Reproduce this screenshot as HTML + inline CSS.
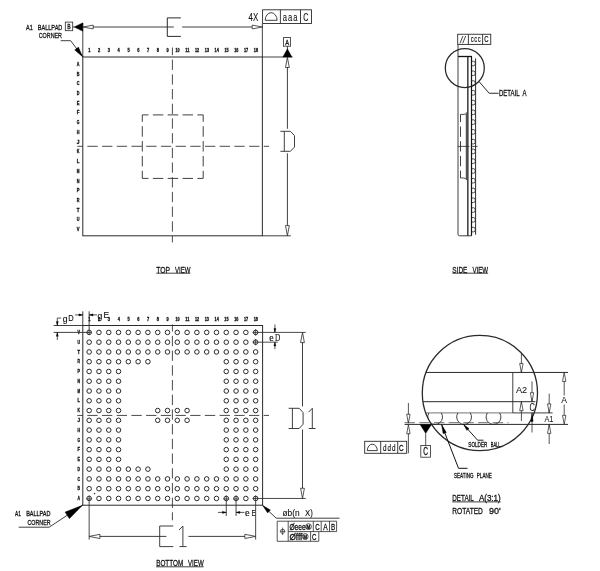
<!DOCTYPE html>
<html><head><meta charset="utf-8"><title>BGA package outline</title>
<style>
html,body{margin:0;padding:0;background:#fff;}
body{width:600px;height:571px;overflow:hidden;font-family:"Liberation Sans",sans-serif;}
svg{display:block;filter:grayscale(1);}
svg text{font-family:"Liberation Sans",sans-serif;}
</style></head><body>
<svg width="600" height="571" viewBox="0 0 600 571">
<rect x="0" y="0" width="600" height="571" fill="#ffffff"/>
<rect x="82.80" y="57.00" width="179.55" height="178.80" fill="none" stroke="#2a2a2a" stroke-width="1.0"/>
<line x1="82.80" y1="23.00" x2="82.80" y2="57.00" stroke="#2a2a2a" stroke-width="0.9"/>
<line x1="262.35" y1="23.50" x2="262.35" y2="57.00" stroke="#2a2a2a" stroke-width="0.9"/>
<line x1="262.35" y1="57.00" x2="292.50" y2="57.00" stroke="#2a2a2a" stroke-width="0.9"/>
<line x1="262.35" y1="235.80" x2="290.80" y2="235.80" stroke="#2a2a2a" stroke-width="0.9"/>
<text x="89.30" y="51.70" font-size="4.9" font-weight="bold" text-anchor="middle" fill="#111" stroke="#111" stroke-width="0.3" textLength="2.20" lengthAdjust="spacingAndGlyphs">1</text>
<text x="99.10" y="51.70" font-size="4.9" font-weight="bold" text-anchor="middle" fill="#111" stroke="#111" stroke-width="0.3" textLength="2.20" lengthAdjust="spacingAndGlyphs">2</text>
<text x="108.90" y="51.70" font-size="4.9" font-weight="bold" text-anchor="middle" fill="#111" stroke="#111" stroke-width="0.3" textLength="2.20" lengthAdjust="spacingAndGlyphs">3</text>
<text x="118.70" y="51.70" font-size="4.9" font-weight="bold" text-anchor="middle" fill="#111" stroke="#111" stroke-width="0.3" textLength="2.20" lengthAdjust="spacingAndGlyphs">4</text>
<text x="128.50" y="51.70" font-size="4.9" font-weight="bold" text-anchor="middle" fill="#111" stroke="#111" stroke-width="0.3" textLength="2.20" lengthAdjust="spacingAndGlyphs">5</text>
<text x="138.30" y="51.70" font-size="4.9" font-weight="bold" text-anchor="middle" fill="#111" stroke="#111" stroke-width="0.3" textLength="2.20" lengthAdjust="spacingAndGlyphs">6</text>
<text x="148.10" y="51.70" font-size="4.9" font-weight="bold" text-anchor="middle" fill="#111" stroke="#111" stroke-width="0.3" textLength="2.20" lengthAdjust="spacingAndGlyphs">7</text>
<text x="157.90" y="51.70" font-size="4.9" font-weight="bold" text-anchor="middle" fill="#111" stroke="#111" stroke-width="0.3" textLength="2.20" lengthAdjust="spacingAndGlyphs">8</text>
<text x="167.70" y="51.70" font-size="4.9" font-weight="bold" text-anchor="middle" fill="#111" stroke="#111" stroke-width="0.3" textLength="2.20" lengthAdjust="spacingAndGlyphs">9</text>
<text x="177.50" y="51.70" font-size="4.9" font-weight="bold" text-anchor="middle" fill="#111" stroke="#111" stroke-width="0.3" textLength="4.20" lengthAdjust="spacingAndGlyphs">10</text>
<text x="187.30" y="51.70" font-size="4.9" font-weight="bold" text-anchor="middle" fill="#111" stroke="#111" stroke-width="0.3" textLength="4.20" lengthAdjust="spacingAndGlyphs">11</text>
<text x="197.10" y="51.70" font-size="4.9" font-weight="bold" text-anchor="middle" fill="#111" stroke="#111" stroke-width="0.3" textLength="4.20" lengthAdjust="spacingAndGlyphs">12</text>
<text x="206.90" y="51.70" font-size="4.9" font-weight="bold" text-anchor="middle" fill="#111" stroke="#111" stroke-width="0.3" textLength="4.20" lengthAdjust="spacingAndGlyphs">13</text>
<text x="216.70" y="51.70" font-size="4.9" font-weight="bold" text-anchor="middle" fill="#111" stroke="#111" stroke-width="0.3" textLength="4.20" lengthAdjust="spacingAndGlyphs">14</text>
<text x="226.50" y="51.70" font-size="4.9" font-weight="bold" text-anchor="middle" fill="#111" stroke="#111" stroke-width="0.3" textLength="4.20" lengthAdjust="spacingAndGlyphs">15</text>
<text x="236.30" y="51.70" font-size="4.9" font-weight="bold" text-anchor="middle" fill="#111" stroke="#111" stroke-width="0.3" textLength="4.20" lengthAdjust="spacingAndGlyphs">16</text>
<text x="246.10" y="51.70" font-size="4.9" font-weight="bold" text-anchor="middle" fill="#111" stroke="#111" stroke-width="0.3" textLength="4.20" lengthAdjust="spacingAndGlyphs">17</text>
<text x="255.90" y="51.70" font-size="4.9" font-weight="bold" text-anchor="middle" fill="#111" stroke="#111" stroke-width="0.3" textLength="4.20" lengthAdjust="spacingAndGlyphs">18</text>
<text x="78.20" y="65.80" font-size="4.9" font-weight="bold" text-anchor="middle" fill="#111" stroke="#111" stroke-width="0.3" textLength="2.70" lengthAdjust="spacingAndGlyphs">A</text>
<text x="78.20" y="75.52" font-size="4.9" font-weight="bold" text-anchor="middle" fill="#111" stroke="#111" stroke-width="0.3" textLength="2.70" lengthAdjust="spacingAndGlyphs">B</text>
<text x="78.20" y="85.25" font-size="4.9" font-weight="bold" text-anchor="middle" fill="#111" stroke="#111" stroke-width="0.3" textLength="2.70" lengthAdjust="spacingAndGlyphs">C</text>
<text x="78.20" y="94.97" font-size="4.9" font-weight="bold" text-anchor="middle" fill="#111" stroke="#111" stroke-width="0.3" textLength="2.70" lengthAdjust="spacingAndGlyphs">D</text>
<text x="78.20" y="104.70" font-size="4.9" font-weight="bold" text-anchor="middle" fill="#111" stroke="#111" stroke-width="0.3" textLength="2.70" lengthAdjust="spacingAndGlyphs">E</text>
<text x="78.20" y="114.42" font-size="4.9" font-weight="bold" text-anchor="middle" fill="#111" stroke="#111" stroke-width="0.3" textLength="2.70" lengthAdjust="spacingAndGlyphs">F</text>
<text x="78.20" y="124.15" font-size="4.9" font-weight="bold" text-anchor="middle" fill="#111" stroke="#111" stroke-width="0.3" textLength="2.70" lengthAdjust="spacingAndGlyphs">G</text>
<text x="78.20" y="133.88" font-size="4.9" font-weight="bold" text-anchor="middle" fill="#111" stroke="#111" stroke-width="0.3" textLength="2.70" lengthAdjust="spacingAndGlyphs">H</text>
<text x="78.20" y="143.60" font-size="4.9" font-weight="bold" text-anchor="middle" fill="#111" stroke="#111" stroke-width="0.3" textLength="2.70" lengthAdjust="spacingAndGlyphs">J</text>
<text x="78.20" y="153.32" font-size="4.9" font-weight="bold" text-anchor="middle" fill="#111" stroke="#111" stroke-width="0.3" textLength="2.70" lengthAdjust="spacingAndGlyphs">K</text>
<text x="78.20" y="163.05" font-size="4.9" font-weight="bold" text-anchor="middle" fill="#111" stroke="#111" stroke-width="0.3" textLength="2.70" lengthAdjust="spacingAndGlyphs">L</text>
<text x="78.20" y="172.78" font-size="4.9" font-weight="bold" text-anchor="middle" fill="#111" stroke="#111" stroke-width="0.3" textLength="2.70" lengthAdjust="spacingAndGlyphs">M</text>
<text x="78.20" y="182.50" font-size="4.9" font-weight="bold" text-anchor="middle" fill="#111" stroke="#111" stroke-width="0.3" textLength="2.70" lengthAdjust="spacingAndGlyphs">N</text>
<text x="78.20" y="192.23" font-size="4.9" font-weight="bold" text-anchor="middle" fill="#111" stroke="#111" stroke-width="0.3" textLength="2.70" lengthAdjust="spacingAndGlyphs">P</text>
<text x="78.20" y="201.95" font-size="4.9" font-weight="bold" text-anchor="middle" fill="#111" stroke="#111" stroke-width="0.3" textLength="2.70" lengthAdjust="spacingAndGlyphs">R</text>
<text x="78.20" y="211.68" font-size="4.9" font-weight="bold" text-anchor="middle" fill="#111" stroke="#111" stroke-width="0.3" textLength="2.70" lengthAdjust="spacingAndGlyphs">T</text>
<text x="78.20" y="221.40" font-size="4.9" font-weight="bold" text-anchor="middle" fill="#111" stroke="#111" stroke-width="0.3" textLength="2.70" lengthAdjust="spacingAndGlyphs">U</text>
<text x="78.20" y="231.12" font-size="4.9" font-weight="bold" text-anchor="middle" fill="#111" stroke="#111" stroke-width="0.3" textLength="2.70" lengthAdjust="spacingAndGlyphs">V</text>
<line x1="172.40" y1="47.50" x2="172.40" y2="242.40" stroke="#2a2a2a" stroke-width="0.85" stroke-dasharray="10.3 4.4" stroke-dashoffset="2.60"/>
<line x1="77.30" y1="146.30" x2="269.00" y2="146.30" stroke="#2a2a2a" stroke-width="0.85" stroke-dasharray="10.3 4.4" stroke-dashoffset="4.60"/>
<line x1="142.30" y1="114.90" x2="203.20" y2="114.90" stroke="#2a2a2a" stroke-width="0.9" stroke-dasharray="10.45 4.4" stroke-dashoffset="4.30"/>
<line x1="142.30" y1="178.40" x2="203.20" y2="178.40" stroke="#2a2a2a" stroke-width="0.9" stroke-dasharray="10.45 4.4" stroke-dashoffset="4.30"/>
<line x1="142.30" y1="114.90" x2="142.30" y2="178.40" stroke="#2a2a2a" stroke-width="0.9" stroke-dasharray="10.45 4.4" stroke-dashoffset="3.50"/>
<line x1="203.20" y1="114.90" x2="203.20" y2="178.40" stroke="#2a2a2a" stroke-width="0.9" stroke-dasharray="10.45 4.4" stroke-dashoffset="3.50"/>
<polygon points="74.00,27.00 82.80,22.70 82.80,31.30" fill="#000" stroke="#000" stroke-width="0.3" stroke-linejoin="miter"/>
<line x1="72.70" y1="27.00" x2="74.50" y2="27.00" stroke="#2a2a2a" stroke-width="0.9"/>
<rect x="65.30" y="22.10" width="7.40" height="8.60" fill="none" stroke="#2a2a2a" stroke-width="0.8"/>
<text x="69.00" y="29.00" font-size="6.6" font-weight="normal" text-anchor="middle" fill="#111" stroke="#111" stroke-width="0.3" textLength="3.40" lengthAdjust="spacingAndGlyphs">B</text>
<polygon points="83.00,27.00 93.20,25.10 93.20,28.90" fill="#fff" stroke="#2a2a2a" stroke-width="0.8" stroke-linejoin="miter"/>
<line x1="93.00" y1="27.00" x2="167.20" y2="27.00" stroke="#2a2a2a" stroke-width="0.9"/>
<line x1="167.20" y1="27.00" x2="173.80" y2="27.00" stroke="#2a2a2a" stroke-width="0.9"/>
<line x1="182.20" y1="27.00" x2="252.00" y2="27.00" stroke="#2a2a2a" stroke-width="0.9"/>
<polygon points="262.40,27.00 252.20,28.90 252.20,25.10" fill="#fff" stroke="#2a2a2a" stroke-width="0.8" stroke-linejoin="miter"/>
<path d="M180.8 17.9 H167.3 V36.4 H180.8" fill="none" stroke="#2a2a2a" stroke-width="1.0" />
<text x="26.00" y="30.00" font-size="8.1" font-weight="normal" text-anchor="start" fill="#111" stroke="#111" stroke-width="0.3" textLength="6.70" lengthAdjust="spacingAndGlyphs">A1</text>
<text x="37.70" y="30.00" font-size="8.1" font-weight="normal" text-anchor="start" fill="#111" stroke="#111" stroke-width="0.3" textLength="24.70" lengthAdjust="spacingAndGlyphs">BALLPAD</text>
<text x="38.70" y="38.30" font-size="8.1" font-weight="normal" text-anchor="start" fill="#111" stroke="#111" stroke-width="0.3" textLength="23.30" lengthAdjust="spacingAndGlyphs">CORNER</text>
<polyline points="60.70,40.70 70.70,40.70 82.60,56.70" fill="none" stroke="#2a2a2a" stroke-width="0.9" stroke-linejoin="miter"/>
<polygon points="82.80,56.90 74.62,49.89 78.48,47.03" fill="#000" stroke="#000" stroke-width="0.3" stroke-linejoin="miter"/>
<text x="248.60" y="20.80" font-size="10.6" font-weight="normal" text-anchor="start" fill="#111" stroke="#111" stroke-width="0.1" textLength="9.70" lengthAdjust="spacingAndGlyphs">4X</text>
<rect x="262.60" y="9.80" width="48.90" height="13.70" fill="none" stroke="#2a2a2a" stroke-width="0.9"/>
<line x1="280.40" y1="9.80" x2="280.40" y2="23.50" stroke="#2a2a2a" stroke-width="0.9"/>
<line x1="300.50" y1="9.80" x2="300.50" y2="23.50" stroke="#2a2a2a" stroke-width="0.9"/>
<path d="M265.2 20.3 H277.1 A5.95 7.6 0 0 0 265.2 20.3 Z" fill="none" stroke="#2a2a2a" stroke-width="0.9" />
<text x="282.70" y="21.00" font-size="11.8" font-weight="normal" text-anchor="start" fill="#111" stroke="#111" stroke-width="0.12" textLength="4.20" lengthAdjust="spacingAndGlyphs">a</text>
<text x="287.90" y="21.00" font-size="11.8" font-weight="normal" text-anchor="start" fill="#111" stroke="#111" stroke-width="0.12" textLength="4.20" lengthAdjust="spacingAndGlyphs">a</text>
<text x="293.20" y="21.00" font-size="11.8" font-weight="normal" text-anchor="start" fill="#111" stroke="#111" stroke-width="0.12" textLength="4.20" lengthAdjust="spacingAndGlyphs">a</text>
<text x="305.80" y="21.00" font-size="11.0" font-weight="normal" text-anchor="middle" fill="#111" stroke="#111" stroke-width="0.15" textLength="5.20" lengthAdjust="spacingAndGlyphs">C</text>
<rect x="283.50" y="37.60" width="7.10" height="8.60" fill="none" stroke="#2a2a2a" stroke-width="0.8"/>
<text x="287.10" y="44.80" font-size="7.2" font-weight="normal" text-anchor="middle" fill="#111" stroke="#111" stroke-width="0.3" textLength="3.80" lengthAdjust="spacingAndGlyphs">A</text>
<line x1="287.40" y1="46.20" x2="287.40" y2="50.00" stroke="#2a2a2a" stroke-width="0.9"/>
<polygon points="287.40,48.80 292.00,57.10 282.80,57.10" fill="#000" stroke="#000" stroke-width="0.3" stroke-linejoin="miter"/>
<polygon points="287.40,57.30 289.30,67.50 285.50,67.50" fill="#fff" stroke="#2a2a2a" stroke-width="0.8" stroke-linejoin="miter"/>
<line x1="287.40" y1="67.00" x2="287.40" y2="128.80" stroke="#2a2a2a" stroke-width="0.9"/>
<line x1="287.40" y1="153.30" x2="287.40" y2="225.80" stroke="#2a2a2a" stroke-width="0.9"/>
<polygon points="287.40,235.80 285.50,225.60 289.30,225.60" fill="#fff" stroke="#2a2a2a" stroke-width="0.8" stroke-linejoin="miter"/>
<path d="M280.4 131.3 H290.4 L294.5 135.6 V147.1 L290.4 151.3 H280.4 M284.3 131.3 V151.3" fill="none" stroke="#2a2a2a" stroke-width="0.9" />
<text x="156.30" y="272.70" font-size="9.9" font-weight="normal" text-anchor="start" fill="#111" stroke="#111" stroke-width="0.3" textLength="13.80" lengthAdjust="spacingAndGlyphs">TOP</text>
<text x="175.00" y="272.70" font-size="9.9" font-weight="normal" text-anchor="start" fill="#111" stroke="#111" stroke-width="0.3" textLength="15.40" lengthAdjust="spacingAndGlyphs">VIEW</text>
<line x1="156.30" y1="273.20" x2="190.40" y2="273.20" stroke="#2a2a2a" stroke-width="0.9"/>
<rect x="457.70" y="34.25" width="33.05" height="10.15" fill="none" stroke="#2a2a2a" stroke-width="0.9"/>
<line x1="468.40" y1="34.25" x2="468.40" y2="44.40" stroke="#2a2a2a" stroke-width="0.9"/>
<line x1="482.60" y1="34.25" x2="482.60" y2="44.40" stroke="#2a2a2a" stroke-width="0.9"/>
<line x1="460.00" y1="43.30" x2="462.90" y2="36.00" stroke="#2a2a2a" stroke-width="0.85"/>
<line x1="462.70" y1="43.30" x2="465.70" y2="36.00" stroke="#2a2a2a" stroke-width="0.85"/>
<text x="470.70" y="42.30" font-size="9.0" font-weight="normal" text-anchor="start" fill="#111" stroke="#111" stroke-width="0.15" textLength="2.90" lengthAdjust="spacingAndGlyphs">c</text>
<text x="474.20" y="42.30" font-size="9.0" font-weight="normal" text-anchor="start" fill="#111" stroke="#111" stroke-width="0.15" textLength="2.90" lengthAdjust="spacingAndGlyphs">c</text>
<text x="477.70" y="42.30" font-size="9.0" font-weight="normal" text-anchor="start" fill="#111" stroke="#111" stroke-width="0.15" textLength="2.90" lengthAdjust="spacingAndGlyphs">c</text>
<text x="486.30" y="42.40" font-size="8.7" font-weight="normal" text-anchor="middle" fill="#111" stroke="#111" stroke-width="0.2" textLength="4.30" lengthAdjust="spacingAndGlyphs">C</text>
<circle cx="464.80" cy="68.00" r="19.50" fill="none" stroke="#2a2a2a" stroke-width="1.25"/>
<line x1="458.00" y1="44.40" x2="458.00" y2="234.30" stroke="#2a2a2a" stroke-width="0.9"/>
<path d="M458.0 234.3 Q458.0 235.8 459.5 235.8 H471.5" fill="none" stroke="#2a2a2a" stroke-width="0.9" />
<line x1="458.00" y1="56.50" x2="472.00" y2="56.50" stroke="#111" stroke-width="1.3"/>
<line x1="467.85" y1="56.50" x2="467.85" y2="235.80" stroke="#111" stroke-width="1.25"/>
<line x1="471.50" y1="56.50" x2="471.50" y2="235.80" stroke="#111" stroke-width="1.2"/>
<line x1="475.60" y1="58.40" x2="475.60" y2="234.70" stroke="#222" stroke-width="0.95"/>
<path d="M471.5 61.25 H473.70 Q475.30 61.25 475.30 63.50 Q475.30 65.75 473.70 65.75 H471.5" fill="none" stroke="#2a2a2a" stroke-width="0.85" />
<path d="M471.5 71.02 H473.70 Q475.30 71.02 475.30 73.27 Q475.30 75.52 473.70 75.52 H471.5" fill="none" stroke="#2a2a2a" stroke-width="0.85" />
<path d="M471.5 80.79 H473.70 Q475.30 80.79 475.30 83.04 Q475.30 85.29 473.70 85.29 H471.5" fill="none" stroke="#2a2a2a" stroke-width="0.85" />
<path d="M471.5 90.56 H473.70 Q475.30 90.56 475.30 92.81 Q475.30 95.06 473.70 95.06 H471.5" fill="none" stroke="#2a2a2a" stroke-width="0.85" />
<path d="M471.5 100.33 H473.70 Q475.30 100.33 475.30 102.58 Q475.30 104.83 473.70 104.83 H471.5" fill="none" stroke="#2a2a2a" stroke-width="0.85" />
<path d="M471.5 110.10 H473.70 Q475.30 110.10 475.30 112.35 Q475.30 114.60 473.70 114.60 H471.5" fill="none" stroke="#2a2a2a" stroke-width="0.85" />
<path d="M471.5 119.87 H473.70 Q475.30 119.87 475.30 122.12 Q475.30 124.37 473.70 124.37 H471.5" fill="none" stroke="#2a2a2a" stroke-width="0.85" />
<path d="M471.5 129.64 H473.70 Q475.30 129.64 475.30 131.89 Q475.30 134.14 473.70 134.14 H471.5" fill="none" stroke="#2a2a2a" stroke-width="0.85" />
<path d="M471.5 139.41 H473.70 Q475.30 139.41 475.30 141.66 Q475.30 143.91 473.70 143.91 H471.5" fill="none" stroke="#2a2a2a" stroke-width="0.85" />
<path d="M471.5 149.18 H473.70 Q475.30 149.18 475.30 151.43 Q475.30 153.68 473.70 153.68 H471.5" fill="none" stroke="#2a2a2a" stroke-width="0.85" />
<path d="M471.5 158.95 H473.70 Q475.30 158.95 475.30 161.20 Q475.30 163.45 473.70 163.45 H471.5" fill="none" stroke="#2a2a2a" stroke-width="0.85" />
<path d="M471.5 168.72 H473.70 Q475.30 168.72 475.30 170.97 Q475.30 173.22 473.70 173.22 H471.5" fill="none" stroke="#2a2a2a" stroke-width="0.85" />
<path d="M471.5 178.49 H473.70 Q475.30 178.49 475.30 180.74 Q475.30 182.99 473.70 182.99 H471.5" fill="none" stroke="#2a2a2a" stroke-width="0.85" />
<path d="M471.5 188.26 H473.70 Q475.30 188.26 475.30 190.51 Q475.30 192.76 473.70 192.76 H471.5" fill="none" stroke="#2a2a2a" stroke-width="0.85" />
<path d="M471.5 198.03 H473.70 Q475.30 198.03 475.30 200.28 Q475.30 202.53 473.70 202.53 H471.5" fill="none" stroke="#2a2a2a" stroke-width="0.85" />
<path d="M471.5 207.80 H473.70 Q475.30 207.80 475.30 210.05 Q475.30 212.30 473.70 212.30 H471.5" fill="none" stroke="#2a2a2a" stroke-width="0.85" />
<path d="M471.5 217.57 H473.70 Q475.30 217.57 475.30 219.82 Q475.30 222.07 473.70 222.07 H471.5" fill="none" stroke="#2a2a2a" stroke-width="0.85" />
<path d="M471.5 227.34 H473.70 Q475.30 227.34 475.30 229.59 Q475.30 231.84 473.70 231.84 H471.5" fill="none" stroke="#2a2a2a" stroke-width="0.85" />
<path d="M467.2 112.0 Q466.4 114.4 464.2 114.4 H460.5" fill="none" stroke="#2a2a2a" stroke-width="0.85" />
<line x1="460.50" y1="114.40" x2="460.50" y2="178.00" stroke="#2a2a2a" stroke-width="0.9" stroke-dasharray="10.3 4.4" stroke-dashoffset="2.60"/>
<path d="M460.5 178.0 H463.6 Q465.8 178.0 467.3 180.4" fill="none" stroke="#2a2a2a" stroke-width="0.85" />
<line x1="466.50" y1="113.60" x2="466.50" y2="180.00" stroke="#555" stroke-width="1.5"/>
<line x1="457.70" y1="146.40" x2="469.40" y2="146.40" stroke="#2a2a2a" stroke-width="0.8"/>
<line x1="471.50" y1="146.40" x2="477.60" y2="146.40" stroke="#2a2a2a" stroke-width="0.8"/>
<polyline points="478.90,81.40 489.20,93.25 498.60,93.25" fill="none" stroke="#2a2a2a" stroke-width="1.0" stroke-linejoin="miter"/>
<text x="499.00" y="96.10" font-size="8.4" font-weight="normal" text-anchor="start" fill="#111" stroke="#111" stroke-width="0.3" textLength="20.60" lengthAdjust="spacingAndGlyphs">DETAIL</text>
<text x="522.50" y="96.10" font-size="8.4" font-weight="normal" text-anchor="start" fill="#111" stroke="#111" stroke-width="0.3" textLength="4.00" lengthAdjust="spacingAndGlyphs">A</text>
<text x="452.30" y="272.70" font-size="9.9" font-weight="normal" text-anchor="start" fill="#111" stroke="#111" stroke-width="0.3" textLength="15.10" lengthAdjust="spacingAndGlyphs">SIDE</text>
<text x="472.40" y="272.70" font-size="9.9" font-weight="normal" text-anchor="start" fill="#111" stroke="#111" stroke-width="0.3" textLength="15.70" lengthAdjust="spacingAndGlyphs">VIEW</text>
<line x1="452.30" y1="273.20" x2="488.10" y2="273.20" stroke="#2a2a2a" stroke-width="0.9"/>
<rect x="82.80" y="325.50" width="179.80" height="179.70" fill="none" stroke="#2a2a2a" stroke-width="1.0"/>
<circle cx="89.15" cy="332.40" r="2.28" fill="none" stroke="#2a2a2a" stroke-width="1.0"/>
<circle cx="98.94" cy="332.40" r="2.28" fill="none" stroke="#2a2a2a" stroke-width="1.0"/>
<circle cx="108.74" cy="332.40" r="2.28" fill="none" stroke="#2a2a2a" stroke-width="1.0"/>
<circle cx="118.53" cy="332.40" r="2.28" fill="none" stroke="#2a2a2a" stroke-width="1.0"/>
<circle cx="128.33" cy="332.40" r="2.28" fill="none" stroke="#2a2a2a" stroke-width="1.0"/>
<circle cx="138.12" cy="332.40" r="2.28" fill="none" stroke="#2a2a2a" stroke-width="1.0"/>
<circle cx="147.91" cy="332.40" r="2.28" fill="none" stroke="#2a2a2a" stroke-width="1.0"/>
<circle cx="157.71" cy="332.40" r="2.28" fill="none" stroke="#2a2a2a" stroke-width="1.0"/>
<circle cx="167.50" cy="332.40" r="2.28" fill="none" stroke="#2a2a2a" stroke-width="1.0"/>
<circle cx="177.30" cy="332.40" r="2.28" fill="none" stroke="#2a2a2a" stroke-width="1.0"/>
<circle cx="187.09" cy="332.40" r="2.28" fill="none" stroke="#2a2a2a" stroke-width="1.0"/>
<circle cx="196.88" cy="332.40" r="2.28" fill="none" stroke="#2a2a2a" stroke-width="1.0"/>
<circle cx="206.68" cy="332.40" r="2.28" fill="none" stroke="#2a2a2a" stroke-width="1.0"/>
<circle cx="216.47" cy="332.40" r="2.28" fill="none" stroke="#2a2a2a" stroke-width="1.0"/>
<circle cx="226.27" cy="332.40" r="2.28" fill="none" stroke="#2a2a2a" stroke-width="1.0"/>
<circle cx="236.06" cy="332.40" r="2.28" fill="none" stroke="#2a2a2a" stroke-width="1.0"/>
<circle cx="245.85" cy="332.40" r="2.28" fill="none" stroke="#2a2a2a" stroke-width="1.0"/>
<circle cx="255.65" cy="332.40" r="2.28" fill="none" stroke="#2a2a2a" stroke-width="1.0"/>
<circle cx="89.15" cy="342.17" r="2.28" fill="none" stroke="#2a2a2a" stroke-width="1.0"/>
<circle cx="98.94" cy="342.17" r="2.28" fill="none" stroke="#2a2a2a" stroke-width="1.0"/>
<circle cx="108.74" cy="342.17" r="2.28" fill="none" stroke="#2a2a2a" stroke-width="1.0"/>
<circle cx="118.53" cy="342.17" r="2.28" fill="none" stroke="#2a2a2a" stroke-width="1.0"/>
<circle cx="128.33" cy="342.17" r="2.28" fill="none" stroke="#2a2a2a" stroke-width="1.0"/>
<circle cx="138.12" cy="342.17" r="2.28" fill="none" stroke="#2a2a2a" stroke-width="1.0"/>
<circle cx="147.91" cy="342.17" r="2.28" fill="none" stroke="#2a2a2a" stroke-width="1.0"/>
<circle cx="157.71" cy="342.17" r="2.28" fill="none" stroke="#2a2a2a" stroke-width="1.0"/>
<circle cx="167.50" cy="342.17" r="2.28" fill="none" stroke="#2a2a2a" stroke-width="1.0"/>
<circle cx="177.30" cy="342.17" r="2.28" fill="none" stroke="#2a2a2a" stroke-width="1.0"/>
<circle cx="187.09" cy="342.17" r="2.28" fill="none" stroke="#2a2a2a" stroke-width="1.0"/>
<circle cx="196.88" cy="342.17" r="2.28" fill="none" stroke="#2a2a2a" stroke-width="1.0"/>
<circle cx="206.68" cy="342.17" r="2.28" fill="none" stroke="#2a2a2a" stroke-width="1.0"/>
<circle cx="216.47" cy="342.17" r="2.28" fill="none" stroke="#2a2a2a" stroke-width="1.0"/>
<circle cx="226.27" cy="342.17" r="2.28" fill="none" stroke="#2a2a2a" stroke-width="1.0"/>
<circle cx="236.06" cy="342.17" r="2.28" fill="none" stroke="#2a2a2a" stroke-width="1.0"/>
<circle cx="245.85" cy="342.17" r="2.28" fill="none" stroke="#2a2a2a" stroke-width="1.0"/>
<circle cx="255.65" cy="342.17" r="2.28" fill="none" stroke="#2a2a2a" stroke-width="1.0"/>
<circle cx="89.15" cy="351.94" r="2.28" fill="none" stroke="#2a2a2a" stroke-width="1.0"/>
<circle cx="98.94" cy="351.94" r="2.28" fill="none" stroke="#2a2a2a" stroke-width="1.0"/>
<circle cx="108.74" cy="351.94" r="2.28" fill="none" stroke="#2a2a2a" stroke-width="1.0"/>
<circle cx="118.53" cy="351.94" r="2.28" fill="none" stroke="#2a2a2a" stroke-width="1.0"/>
<circle cx="128.33" cy="351.94" r="2.28" fill="none" stroke="#2a2a2a" stroke-width="1.0"/>
<circle cx="138.12" cy="351.94" r="2.28" fill="none" stroke="#2a2a2a" stroke-width="1.0"/>
<circle cx="147.91" cy="351.94" r="2.28" fill="none" stroke="#2a2a2a" stroke-width="1.0"/>
<circle cx="157.71" cy="351.94" r="2.28" fill="none" stroke="#2a2a2a" stroke-width="1.0"/>
<circle cx="167.50" cy="351.94" r="2.28" fill="none" stroke="#2a2a2a" stroke-width="1.0"/>
<circle cx="177.30" cy="351.94" r="2.28" fill="none" stroke="#2a2a2a" stroke-width="1.0"/>
<circle cx="187.09" cy="351.94" r="2.28" fill="none" stroke="#2a2a2a" stroke-width="1.0"/>
<circle cx="196.88" cy="351.94" r="2.28" fill="none" stroke="#2a2a2a" stroke-width="1.0"/>
<circle cx="206.68" cy="351.94" r="2.28" fill="none" stroke="#2a2a2a" stroke-width="1.0"/>
<circle cx="216.47" cy="351.94" r="2.28" fill="none" stroke="#2a2a2a" stroke-width="1.0"/>
<circle cx="226.27" cy="351.94" r="2.28" fill="none" stroke="#2a2a2a" stroke-width="1.0"/>
<circle cx="236.06" cy="351.94" r="2.28" fill="none" stroke="#2a2a2a" stroke-width="1.0"/>
<circle cx="245.85" cy="351.94" r="2.28" fill="none" stroke="#2a2a2a" stroke-width="1.0"/>
<circle cx="255.65" cy="351.94" r="2.28" fill="none" stroke="#2a2a2a" stroke-width="1.0"/>
<circle cx="89.15" cy="361.70" r="2.28" fill="none" stroke="#2a2a2a" stroke-width="1.0"/>
<circle cx="98.94" cy="361.70" r="2.28" fill="none" stroke="#2a2a2a" stroke-width="1.0"/>
<circle cx="108.74" cy="361.70" r="2.28" fill="none" stroke="#2a2a2a" stroke-width="1.0"/>
<circle cx="118.53" cy="361.70" r="2.28" fill="none" stroke="#2a2a2a" stroke-width="1.0"/>
<circle cx="128.33" cy="361.70" r="2.28" fill="none" stroke="#2a2a2a" stroke-width="1.0"/>
<circle cx="138.12" cy="361.70" r="2.28" fill="none" stroke="#2a2a2a" stroke-width="1.0"/>
<circle cx="147.91" cy="361.70" r="2.28" fill="none" stroke="#2a2a2a" stroke-width="1.0"/>
<circle cx="226.27" cy="361.70" r="2.28" fill="none" stroke="#2a2a2a" stroke-width="1.0"/>
<circle cx="236.06" cy="361.70" r="2.28" fill="none" stroke="#2a2a2a" stroke-width="1.0"/>
<circle cx="245.85" cy="361.70" r="2.28" fill="none" stroke="#2a2a2a" stroke-width="1.0"/>
<circle cx="255.65" cy="361.70" r="2.28" fill="none" stroke="#2a2a2a" stroke-width="1.0"/>
<circle cx="89.15" cy="371.47" r="2.28" fill="none" stroke="#2a2a2a" stroke-width="1.0"/>
<circle cx="98.94" cy="371.47" r="2.28" fill="none" stroke="#2a2a2a" stroke-width="1.0"/>
<circle cx="108.74" cy="371.47" r="2.28" fill="none" stroke="#2a2a2a" stroke-width="1.0"/>
<circle cx="118.53" cy="371.47" r="2.28" fill="none" stroke="#2a2a2a" stroke-width="1.0"/>
<circle cx="226.27" cy="371.47" r="2.28" fill="none" stroke="#2a2a2a" stroke-width="1.0"/>
<circle cx="236.06" cy="371.47" r="2.28" fill="none" stroke="#2a2a2a" stroke-width="1.0"/>
<circle cx="245.85" cy="371.47" r="2.28" fill="none" stroke="#2a2a2a" stroke-width="1.0"/>
<circle cx="255.65" cy="371.47" r="2.28" fill="none" stroke="#2a2a2a" stroke-width="1.0"/>
<circle cx="89.15" cy="381.24" r="2.28" fill="none" stroke="#2a2a2a" stroke-width="1.0"/>
<circle cx="98.94" cy="381.24" r="2.28" fill="none" stroke="#2a2a2a" stroke-width="1.0"/>
<circle cx="108.74" cy="381.24" r="2.28" fill="none" stroke="#2a2a2a" stroke-width="1.0"/>
<circle cx="118.53" cy="381.24" r="2.28" fill="none" stroke="#2a2a2a" stroke-width="1.0"/>
<circle cx="226.27" cy="381.24" r="2.28" fill="none" stroke="#2a2a2a" stroke-width="1.0"/>
<circle cx="236.06" cy="381.24" r="2.28" fill="none" stroke="#2a2a2a" stroke-width="1.0"/>
<circle cx="245.85" cy="381.24" r="2.28" fill="none" stroke="#2a2a2a" stroke-width="1.0"/>
<circle cx="255.65" cy="381.24" r="2.28" fill="none" stroke="#2a2a2a" stroke-width="1.0"/>
<circle cx="89.15" cy="391.01" r="2.28" fill="none" stroke="#2a2a2a" stroke-width="1.0"/>
<circle cx="98.94" cy="391.01" r="2.28" fill="none" stroke="#2a2a2a" stroke-width="1.0"/>
<circle cx="108.74" cy="391.01" r="2.28" fill="none" stroke="#2a2a2a" stroke-width="1.0"/>
<circle cx="118.53" cy="391.01" r="2.28" fill="none" stroke="#2a2a2a" stroke-width="1.0"/>
<circle cx="226.27" cy="391.01" r="2.28" fill="none" stroke="#2a2a2a" stroke-width="1.0"/>
<circle cx="236.06" cy="391.01" r="2.28" fill="none" stroke="#2a2a2a" stroke-width="1.0"/>
<circle cx="245.85" cy="391.01" r="2.28" fill="none" stroke="#2a2a2a" stroke-width="1.0"/>
<circle cx="255.65" cy="391.01" r="2.28" fill="none" stroke="#2a2a2a" stroke-width="1.0"/>
<circle cx="89.15" cy="400.78" r="2.28" fill="none" stroke="#2a2a2a" stroke-width="1.0"/>
<circle cx="98.94" cy="400.78" r="2.28" fill="none" stroke="#2a2a2a" stroke-width="1.0"/>
<circle cx="108.74" cy="400.78" r="2.28" fill="none" stroke="#2a2a2a" stroke-width="1.0"/>
<circle cx="118.53" cy="400.78" r="2.28" fill="none" stroke="#2a2a2a" stroke-width="1.0"/>
<circle cx="226.27" cy="400.78" r="2.28" fill="none" stroke="#2a2a2a" stroke-width="1.0"/>
<circle cx="236.06" cy="400.78" r="2.28" fill="none" stroke="#2a2a2a" stroke-width="1.0"/>
<circle cx="245.85" cy="400.78" r="2.28" fill="none" stroke="#2a2a2a" stroke-width="1.0"/>
<circle cx="255.65" cy="400.78" r="2.28" fill="none" stroke="#2a2a2a" stroke-width="1.0"/>
<circle cx="89.15" cy="410.54" r="2.28" fill="none" stroke="#2a2a2a" stroke-width="1.0"/>
<circle cx="98.94" cy="410.54" r="2.28" fill="none" stroke="#2a2a2a" stroke-width="1.0"/>
<circle cx="108.74" cy="410.54" r="2.28" fill="none" stroke="#2a2a2a" stroke-width="1.0"/>
<circle cx="118.53" cy="410.54" r="2.28" fill="none" stroke="#2a2a2a" stroke-width="1.0"/>
<circle cx="157.71" cy="410.54" r="2.28" fill="none" stroke="#2a2a2a" stroke-width="1.0"/>
<circle cx="167.50" cy="410.54" r="2.28" fill="none" stroke="#2a2a2a" stroke-width="1.0"/>
<circle cx="177.30" cy="410.54" r="2.28" fill="none" stroke="#2a2a2a" stroke-width="1.0"/>
<circle cx="187.09" cy="410.54" r="2.28" fill="none" stroke="#2a2a2a" stroke-width="1.0"/>
<circle cx="226.27" cy="410.54" r="2.28" fill="none" stroke="#2a2a2a" stroke-width="1.0"/>
<circle cx="236.06" cy="410.54" r="2.28" fill="none" stroke="#2a2a2a" stroke-width="1.0"/>
<circle cx="245.85" cy="410.54" r="2.28" fill="none" stroke="#2a2a2a" stroke-width="1.0"/>
<circle cx="255.65" cy="410.54" r="2.28" fill="none" stroke="#2a2a2a" stroke-width="1.0"/>
<circle cx="89.15" cy="420.31" r="2.28" fill="none" stroke="#2a2a2a" stroke-width="1.0"/>
<circle cx="98.94" cy="420.31" r="2.28" fill="none" stroke="#2a2a2a" stroke-width="1.0"/>
<circle cx="108.74" cy="420.31" r="2.28" fill="none" stroke="#2a2a2a" stroke-width="1.0"/>
<circle cx="118.53" cy="420.31" r="2.28" fill="none" stroke="#2a2a2a" stroke-width="1.0"/>
<circle cx="157.71" cy="420.31" r="2.28" fill="none" stroke="#2a2a2a" stroke-width="1.0"/>
<circle cx="167.50" cy="420.31" r="2.28" fill="none" stroke="#2a2a2a" stroke-width="1.0"/>
<circle cx="177.30" cy="420.31" r="2.28" fill="none" stroke="#2a2a2a" stroke-width="1.0"/>
<circle cx="187.09" cy="420.31" r="2.28" fill="none" stroke="#2a2a2a" stroke-width="1.0"/>
<circle cx="226.27" cy="420.31" r="2.28" fill="none" stroke="#2a2a2a" stroke-width="1.0"/>
<circle cx="236.06" cy="420.31" r="2.28" fill="none" stroke="#2a2a2a" stroke-width="1.0"/>
<circle cx="245.85" cy="420.31" r="2.28" fill="none" stroke="#2a2a2a" stroke-width="1.0"/>
<circle cx="255.65" cy="420.31" r="2.28" fill="none" stroke="#2a2a2a" stroke-width="1.0"/>
<circle cx="89.15" cy="430.08" r="2.28" fill="none" stroke="#2a2a2a" stroke-width="1.0"/>
<circle cx="98.94" cy="430.08" r="2.28" fill="none" stroke="#2a2a2a" stroke-width="1.0"/>
<circle cx="108.74" cy="430.08" r="2.28" fill="none" stroke="#2a2a2a" stroke-width="1.0"/>
<circle cx="118.53" cy="430.08" r="2.28" fill="none" stroke="#2a2a2a" stroke-width="1.0"/>
<circle cx="226.27" cy="430.08" r="2.28" fill="none" stroke="#2a2a2a" stroke-width="1.0"/>
<circle cx="236.06" cy="430.08" r="2.28" fill="none" stroke="#2a2a2a" stroke-width="1.0"/>
<circle cx="245.85" cy="430.08" r="2.28" fill="none" stroke="#2a2a2a" stroke-width="1.0"/>
<circle cx="255.65" cy="430.08" r="2.28" fill="none" stroke="#2a2a2a" stroke-width="1.0"/>
<circle cx="89.15" cy="439.85" r="2.28" fill="none" stroke="#2a2a2a" stroke-width="1.0"/>
<circle cx="98.94" cy="439.85" r="2.28" fill="none" stroke="#2a2a2a" stroke-width="1.0"/>
<circle cx="108.74" cy="439.85" r="2.28" fill="none" stroke="#2a2a2a" stroke-width="1.0"/>
<circle cx="118.53" cy="439.85" r="2.28" fill="none" stroke="#2a2a2a" stroke-width="1.0"/>
<circle cx="226.27" cy="439.85" r="2.28" fill="none" stroke="#2a2a2a" stroke-width="1.0"/>
<circle cx="236.06" cy="439.85" r="2.28" fill="none" stroke="#2a2a2a" stroke-width="1.0"/>
<circle cx="245.85" cy="439.85" r="2.28" fill="none" stroke="#2a2a2a" stroke-width="1.0"/>
<circle cx="255.65" cy="439.85" r="2.28" fill="none" stroke="#2a2a2a" stroke-width="1.0"/>
<circle cx="89.15" cy="449.62" r="2.28" fill="none" stroke="#2a2a2a" stroke-width="1.0"/>
<circle cx="98.94" cy="449.62" r="2.28" fill="none" stroke="#2a2a2a" stroke-width="1.0"/>
<circle cx="108.74" cy="449.62" r="2.28" fill="none" stroke="#2a2a2a" stroke-width="1.0"/>
<circle cx="118.53" cy="449.62" r="2.28" fill="none" stroke="#2a2a2a" stroke-width="1.0"/>
<circle cx="226.27" cy="449.62" r="2.28" fill="none" stroke="#2a2a2a" stroke-width="1.0"/>
<circle cx="236.06" cy="449.62" r="2.28" fill="none" stroke="#2a2a2a" stroke-width="1.0"/>
<circle cx="245.85" cy="449.62" r="2.28" fill="none" stroke="#2a2a2a" stroke-width="1.0"/>
<circle cx="255.65" cy="449.62" r="2.28" fill="none" stroke="#2a2a2a" stroke-width="1.0"/>
<circle cx="89.15" cy="459.38" r="2.28" fill="none" stroke="#2a2a2a" stroke-width="1.0"/>
<circle cx="98.94" cy="459.38" r="2.28" fill="none" stroke="#2a2a2a" stroke-width="1.0"/>
<circle cx="108.74" cy="459.38" r="2.28" fill="none" stroke="#2a2a2a" stroke-width="1.0"/>
<circle cx="118.53" cy="459.38" r="2.28" fill="none" stroke="#2a2a2a" stroke-width="1.0"/>
<circle cx="226.27" cy="459.38" r="2.28" fill="none" stroke="#2a2a2a" stroke-width="1.0"/>
<circle cx="236.06" cy="459.38" r="2.28" fill="none" stroke="#2a2a2a" stroke-width="1.0"/>
<circle cx="245.85" cy="459.38" r="2.28" fill="none" stroke="#2a2a2a" stroke-width="1.0"/>
<circle cx="255.65" cy="459.38" r="2.28" fill="none" stroke="#2a2a2a" stroke-width="1.0"/>
<circle cx="89.15" cy="469.15" r="2.28" fill="none" stroke="#2a2a2a" stroke-width="1.0"/>
<circle cx="98.94" cy="469.15" r="2.28" fill="none" stroke="#2a2a2a" stroke-width="1.0"/>
<circle cx="108.74" cy="469.15" r="2.28" fill="none" stroke="#2a2a2a" stroke-width="1.0"/>
<circle cx="118.53" cy="469.15" r="2.28" fill="none" stroke="#2a2a2a" stroke-width="1.0"/>
<circle cx="128.33" cy="469.15" r="2.28" fill="none" stroke="#2a2a2a" stroke-width="1.0"/>
<circle cx="138.12" cy="469.15" r="2.28" fill="none" stroke="#2a2a2a" stroke-width="1.0"/>
<circle cx="147.91" cy="469.15" r="2.28" fill="none" stroke="#2a2a2a" stroke-width="1.0"/>
<circle cx="226.27" cy="469.15" r="2.28" fill="none" stroke="#2a2a2a" stroke-width="1.0"/>
<circle cx="236.06" cy="469.15" r="2.28" fill="none" stroke="#2a2a2a" stroke-width="1.0"/>
<circle cx="245.85" cy="469.15" r="2.28" fill="none" stroke="#2a2a2a" stroke-width="1.0"/>
<circle cx="255.65" cy="469.15" r="2.28" fill="none" stroke="#2a2a2a" stroke-width="1.0"/>
<circle cx="89.15" cy="478.92" r="2.28" fill="none" stroke="#2a2a2a" stroke-width="1.0"/>
<circle cx="98.94" cy="478.92" r="2.28" fill="none" stroke="#2a2a2a" stroke-width="1.0"/>
<circle cx="108.74" cy="478.92" r="2.28" fill="none" stroke="#2a2a2a" stroke-width="1.0"/>
<circle cx="118.53" cy="478.92" r="2.28" fill="none" stroke="#2a2a2a" stroke-width="1.0"/>
<circle cx="128.33" cy="478.92" r="2.28" fill="none" stroke="#2a2a2a" stroke-width="1.0"/>
<circle cx="138.12" cy="478.92" r="2.28" fill="none" stroke="#2a2a2a" stroke-width="1.0"/>
<circle cx="147.91" cy="478.92" r="2.28" fill="none" stroke="#2a2a2a" stroke-width="1.0"/>
<circle cx="157.71" cy="478.92" r="2.28" fill="none" stroke="#2a2a2a" stroke-width="1.0"/>
<circle cx="167.50" cy="478.92" r="2.28" fill="none" stroke="#2a2a2a" stroke-width="1.0"/>
<circle cx="177.30" cy="478.92" r="2.28" fill="none" stroke="#2a2a2a" stroke-width="1.0"/>
<circle cx="187.09" cy="478.92" r="2.28" fill="none" stroke="#2a2a2a" stroke-width="1.0"/>
<circle cx="196.88" cy="478.92" r="2.28" fill="none" stroke="#2a2a2a" stroke-width="1.0"/>
<circle cx="206.68" cy="478.92" r="2.28" fill="none" stroke="#2a2a2a" stroke-width="1.0"/>
<circle cx="216.47" cy="478.92" r="2.28" fill="none" stroke="#2a2a2a" stroke-width="1.0"/>
<circle cx="226.27" cy="478.92" r="2.28" fill="none" stroke="#2a2a2a" stroke-width="1.0"/>
<circle cx="236.06" cy="478.92" r="2.28" fill="none" stroke="#2a2a2a" stroke-width="1.0"/>
<circle cx="245.85" cy="478.92" r="2.28" fill="none" stroke="#2a2a2a" stroke-width="1.0"/>
<circle cx="255.65" cy="478.92" r="2.28" fill="none" stroke="#2a2a2a" stroke-width="1.0"/>
<circle cx="89.15" cy="488.69" r="2.28" fill="none" stroke="#2a2a2a" stroke-width="1.0"/>
<circle cx="98.94" cy="488.69" r="2.28" fill="none" stroke="#2a2a2a" stroke-width="1.0"/>
<circle cx="108.74" cy="488.69" r="2.28" fill="none" stroke="#2a2a2a" stroke-width="1.0"/>
<circle cx="118.53" cy="488.69" r="2.28" fill="none" stroke="#2a2a2a" stroke-width="1.0"/>
<circle cx="128.33" cy="488.69" r="2.28" fill="none" stroke="#2a2a2a" stroke-width="1.0"/>
<circle cx="138.12" cy="488.69" r="2.28" fill="none" stroke="#2a2a2a" stroke-width="1.0"/>
<circle cx="147.91" cy="488.69" r="2.28" fill="none" stroke="#2a2a2a" stroke-width="1.0"/>
<circle cx="157.71" cy="488.69" r="2.28" fill="none" stroke="#2a2a2a" stroke-width="1.0"/>
<circle cx="167.50" cy="488.69" r="2.28" fill="none" stroke="#2a2a2a" stroke-width="1.0"/>
<circle cx="177.30" cy="488.69" r="2.28" fill="none" stroke="#2a2a2a" stroke-width="1.0"/>
<circle cx="187.09" cy="488.69" r="2.28" fill="none" stroke="#2a2a2a" stroke-width="1.0"/>
<circle cx="196.88" cy="488.69" r="2.28" fill="none" stroke="#2a2a2a" stroke-width="1.0"/>
<circle cx="206.68" cy="488.69" r="2.28" fill="none" stroke="#2a2a2a" stroke-width="1.0"/>
<circle cx="216.47" cy="488.69" r="2.28" fill="none" stroke="#2a2a2a" stroke-width="1.0"/>
<circle cx="226.27" cy="488.69" r="2.28" fill="none" stroke="#2a2a2a" stroke-width="1.0"/>
<circle cx="236.06" cy="488.69" r="2.28" fill="none" stroke="#2a2a2a" stroke-width="1.0"/>
<circle cx="245.85" cy="488.69" r="2.28" fill="none" stroke="#2a2a2a" stroke-width="1.0"/>
<circle cx="255.65" cy="488.69" r="2.28" fill="none" stroke="#2a2a2a" stroke-width="1.0"/>
<circle cx="89.15" cy="498.46" r="2.28" fill="none" stroke="#2a2a2a" stroke-width="1.0"/>
<circle cx="98.94" cy="498.46" r="2.28" fill="none" stroke="#2a2a2a" stroke-width="1.0"/>
<circle cx="108.74" cy="498.46" r="2.28" fill="none" stroke="#2a2a2a" stroke-width="1.0"/>
<circle cx="118.53" cy="498.46" r="2.28" fill="none" stroke="#2a2a2a" stroke-width="1.0"/>
<circle cx="128.33" cy="498.46" r="2.28" fill="none" stroke="#2a2a2a" stroke-width="1.0"/>
<circle cx="138.12" cy="498.46" r="2.28" fill="none" stroke="#2a2a2a" stroke-width="1.0"/>
<circle cx="147.91" cy="498.46" r="2.28" fill="none" stroke="#2a2a2a" stroke-width="1.0"/>
<circle cx="157.71" cy="498.46" r="2.28" fill="none" stroke="#2a2a2a" stroke-width="1.0"/>
<circle cx="167.50" cy="498.46" r="2.28" fill="none" stroke="#2a2a2a" stroke-width="1.0"/>
<circle cx="177.30" cy="498.46" r="2.28" fill="none" stroke="#2a2a2a" stroke-width="1.0"/>
<circle cx="187.09" cy="498.46" r="2.28" fill="none" stroke="#2a2a2a" stroke-width="1.0"/>
<circle cx="196.88" cy="498.46" r="2.28" fill="none" stroke="#2a2a2a" stroke-width="1.0"/>
<circle cx="206.68" cy="498.46" r="2.28" fill="none" stroke="#2a2a2a" stroke-width="1.0"/>
<circle cx="216.47" cy="498.46" r="2.28" fill="none" stroke="#2a2a2a" stroke-width="1.0"/>
<circle cx="226.27" cy="498.46" r="2.28" fill="none" stroke="#2a2a2a" stroke-width="1.0"/>
<circle cx="236.06" cy="498.46" r="2.28" fill="none" stroke="#2a2a2a" stroke-width="1.0"/>
<circle cx="245.85" cy="498.46" r="2.28" fill="none" stroke="#2a2a2a" stroke-width="1.0"/>
<circle cx="255.65" cy="498.46" r="2.28" fill="none" stroke="#2a2a2a" stroke-width="1.0"/>
<text x="89.35" y="320.80" font-size="4.9" font-weight="bold" text-anchor="middle" fill="#111" stroke="#111" stroke-width="0.3" textLength="2.20" lengthAdjust="spacingAndGlyphs">1</text>
<text x="99.14" y="320.80" font-size="4.9" font-weight="bold" text-anchor="middle" fill="#111" stroke="#111" stroke-width="0.3" textLength="2.20" lengthAdjust="spacingAndGlyphs">2</text>
<text x="108.94" y="320.80" font-size="4.9" font-weight="bold" text-anchor="middle" fill="#111" stroke="#111" stroke-width="0.3" textLength="2.20" lengthAdjust="spacingAndGlyphs">3</text>
<text x="118.73" y="320.80" font-size="4.9" font-weight="bold" text-anchor="middle" fill="#111" stroke="#111" stroke-width="0.3" textLength="2.20" lengthAdjust="spacingAndGlyphs">4</text>
<text x="128.53" y="320.80" font-size="4.9" font-weight="bold" text-anchor="middle" fill="#111" stroke="#111" stroke-width="0.3" textLength="2.20" lengthAdjust="spacingAndGlyphs">5</text>
<text x="138.32" y="320.80" font-size="4.9" font-weight="bold" text-anchor="middle" fill="#111" stroke="#111" stroke-width="0.3" textLength="2.20" lengthAdjust="spacingAndGlyphs">6</text>
<text x="148.11" y="320.80" font-size="4.9" font-weight="bold" text-anchor="middle" fill="#111" stroke="#111" stroke-width="0.3" textLength="2.20" lengthAdjust="spacingAndGlyphs">7</text>
<text x="157.91" y="320.80" font-size="4.9" font-weight="bold" text-anchor="middle" fill="#111" stroke="#111" stroke-width="0.3" textLength="2.20" lengthAdjust="spacingAndGlyphs">8</text>
<text x="167.70" y="320.80" font-size="4.9" font-weight="bold" text-anchor="middle" fill="#111" stroke="#111" stroke-width="0.3" textLength="2.20" lengthAdjust="spacingAndGlyphs">9</text>
<text x="177.50" y="320.80" font-size="4.9" font-weight="bold" text-anchor="middle" fill="#111" stroke="#111" stroke-width="0.3" textLength="4.20" lengthAdjust="spacingAndGlyphs">10</text>
<text x="187.29" y="320.80" font-size="4.9" font-weight="bold" text-anchor="middle" fill="#111" stroke="#111" stroke-width="0.3" textLength="4.20" lengthAdjust="spacingAndGlyphs">11</text>
<text x="197.08" y="320.80" font-size="4.9" font-weight="bold" text-anchor="middle" fill="#111" stroke="#111" stroke-width="0.3" textLength="4.20" lengthAdjust="spacingAndGlyphs">12</text>
<text x="206.88" y="320.80" font-size="4.9" font-weight="bold" text-anchor="middle" fill="#111" stroke="#111" stroke-width="0.3" textLength="4.20" lengthAdjust="spacingAndGlyphs">13</text>
<text x="216.67" y="320.80" font-size="4.9" font-weight="bold" text-anchor="middle" fill="#111" stroke="#111" stroke-width="0.3" textLength="4.20" lengthAdjust="spacingAndGlyphs">14</text>
<text x="226.47" y="320.80" font-size="4.9" font-weight="bold" text-anchor="middle" fill="#111" stroke="#111" stroke-width="0.3" textLength="4.20" lengthAdjust="spacingAndGlyphs">15</text>
<text x="236.26" y="320.80" font-size="4.9" font-weight="bold" text-anchor="middle" fill="#111" stroke="#111" stroke-width="0.3" textLength="4.20" lengthAdjust="spacingAndGlyphs">16</text>
<text x="246.05" y="320.80" font-size="4.9" font-weight="bold" text-anchor="middle" fill="#111" stroke="#111" stroke-width="0.3" textLength="4.20" lengthAdjust="spacingAndGlyphs">17</text>
<text x="255.85" y="320.80" font-size="4.9" font-weight="bold" text-anchor="middle" fill="#111" stroke="#111" stroke-width="0.3" textLength="4.20" lengthAdjust="spacingAndGlyphs">18</text>
<text x="78.80" y="334.10" font-size="4.6" font-weight="bold" text-anchor="middle" fill="#111" stroke="#111" stroke-width="0.3" textLength="2.50" lengthAdjust="spacingAndGlyphs">V</text>
<text x="78.80" y="343.87" font-size="4.6" font-weight="bold" text-anchor="middle" fill="#111" stroke="#111" stroke-width="0.3" textLength="2.50" lengthAdjust="spacingAndGlyphs">U</text>
<text x="78.80" y="353.64" font-size="4.6" font-weight="bold" text-anchor="middle" fill="#111" stroke="#111" stroke-width="0.3" textLength="2.50" lengthAdjust="spacingAndGlyphs">T</text>
<text x="78.80" y="363.40" font-size="4.6" font-weight="bold" text-anchor="middle" fill="#111" stroke="#111" stroke-width="0.3" textLength="2.50" lengthAdjust="spacingAndGlyphs">R</text>
<text x="78.80" y="373.17" font-size="4.6" font-weight="bold" text-anchor="middle" fill="#111" stroke="#111" stroke-width="0.3" textLength="2.50" lengthAdjust="spacingAndGlyphs">P</text>
<text x="78.80" y="382.94" font-size="4.6" font-weight="bold" text-anchor="middle" fill="#111" stroke="#111" stroke-width="0.3" textLength="2.50" lengthAdjust="spacingAndGlyphs">N</text>
<text x="78.80" y="392.71" font-size="4.6" font-weight="bold" text-anchor="middle" fill="#111" stroke="#111" stroke-width="0.3" textLength="2.50" lengthAdjust="spacingAndGlyphs">M</text>
<text x="78.80" y="402.48" font-size="4.6" font-weight="bold" text-anchor="middle" fill="#111" stroke="#111" stroke-width="0.3" textLength="2.50" lengthAdjust="spacingAndGlyphs">L</text>
<text x="78.80" y="412.24" font-size="4.6" font-weight="bold" text-anchor="middle" fill="#111" stroke="#111" stroke-width="0.3" textLength="2.50" lengthAdjust="spacingAndGlyphs">K</text>
<text x="78.80" y="422.01" font-size="4.6" font-weight="bold" text-anchor="middle" fill="#111" stroke="#111" stroke-width="0.3" textLength="2.50" lengthAdjust="spacingAndGlyphs">J</text>
<text x="78.80" y="431.78" font-size="4.6" font-weight="bold" text-anchor="middle" fill="#111" stroke="#111" stroke-width="0.3" textLength="2.50" lengthAdjust="spacingAndGlyphs">H</text>
<text x="78.80" y="441.55" font-size="4.6" font-weight="bold" text-anchor="middle" fill="#111" stroke="#111" stroke-width="0.3" textLength="2.50" lengthAdjust="spacingAndGlyphs">G</text>
<text x="78.80" y="451.32" font-size="4.6" font-weight="bold" text-anchor="middle" fill="#111" stroke="#111" stroke-width="0.3" textLength="2.50" lengthAdjust="spacingAndGlyphs">F</text>
<text x="78.80" y="461.08" font-size="4.6" font-weight="bold" text-anchor="middle" fill="#111" stroke="#111" stroke-width="0.3" textLength="2.50" lengthAdjust="spacingAndGlyphs">E</text>
<text x="78.80" y="470.85" font-size="4.6" font-weight="bold" text-anchor="middle" fill="#111" stroke="#111" stroke-width="0.3" textLength="2.50" lengthAdjust="spacingAndGlyphs">D</text>
<text x="78.80" y="480.62" font-size="4.6" font-weight="bold" text-anchor="middle" fill="#111" stroke="#111" stroke-width="0.3" textLength="2.50" lengthAdjust="spacingAndGlyphs">C</text>
<text x="78.80" y="490.39" font-size="4.6" font-weight="bold" text-anchor="middle" fill="#111" stroke="#111" stroke-width="0.3" textLength="2.50" lengthAdjust="spacingAndGlyphs">B</text>
<text x="78.80" y="500.16" font-size="4.6" font-weight="bold" text-anchor="middle" fill="#111" stroke="#111" stroke-width="0.3" textLength="2.50" lengthAdjust="spacingAndGlyphs">A</text>
<line x1="172.40" y1="324.50" x2="172.40" y2="520.30" stroke="#2a2a2a" stroke-width="0.85" stroke-dasharray="10.3 4.4" stroke-dashoffset="3.30"/>
<line x1="77.30" y1="415.43" x2="269.00" y2="415.43" stroke="#2a2a2a" stroke-width="0.85" stroke-dasharray="10.3 4.4" stroke-dashoffset="4.70"/>
<line x1="53.70" y1="325.50" x2="82.80" y2="325.50" stroke="#2a2a2a" stroke-width="0.9"/>
<line x1="53.70" y1="332.40" x2="91.75" y2="332.40" stroke="#2a2a2a" stroke-width="0.9"/>
<line x1="82.80" y1="311.30" x2="82.80" y2="325.50" stroke="#2a2a2a" stroke-width="0.9"/>
<line x1="89.15" y1="311.30" x2="89.15" y2="335.00" stroke="#2a2a2a" stroke-width="0.9"/>
<polyline points="61.20,318.00 57.30,318.00 57.30,325.50" fill="none" stroke="#2a2a2a" stroke-width="0.8" stroke-linejoin="miter"/>
<polygon points="57.30,325.50 56.25,321.60 58.35,321.60" fill="#000" stroke="#000" stroke-width="0.3" stroke-linejoin="miter"/>
<line x1="57.30" y1="332.40" x2="57.30" y2="340.00" stroke="#2a2a2a" stroke-width="0.8"/>
<polygon points="57.30,332.40 58.35,336.30 56.25,336.30" fill="#000" stroke="#000" stroke-width="0.3" stroke-linejoin="miter"/>
<text x="62.80" y="321.60" font-size="9.3" font-weight="normal" text-anchor="start" fill="#111" stroke="#111" stroke-width="0.15" textLength="4.80" lengthAdjust="spacingAndGlyphs">g</text>
<text x="68.20" y="321.20" font-size="9.3" font-weight="normal" text-anchor="start" fill="#111" stroke="#111" stroke-width="0.15" textLength="5.40" lengthAdjust="spacingAndGlyphs">D</text>
<line x1="75.00" y1="314.90" x2="82.80" y2="314.90" stroke="#2a2a2a" stroke-width="0.8"/>
<polygon points="82.80,314.90 78.90,315.95 78.90,313.85" fill="#000" stroke="#000" stroke-width="0.3" stroke-linejoin="miter"/>
<line x1="89.15" y1="314.90" x2="97.00" y2="314.90" stroke="#2a2a2a" stroke-width="0.8"/>
<polygon points="89.15,314.90 93.05,313.85 93.05,315.95" fill="#000" stroke="#000" stroke-width="0.3" stroke-linejoin="miter"/>
<text x="97.60" y="318.60" font-size="9.3" font-weight="normal" text-anchor="start" fill="#111" stroke="#111" stroke-width="0.15" textLength="4.80" lengthAdjust="spacingAndGlyphs">g</text>
<text x="103.40" y="318.00" font-size="9.3" font-weight="normal" text-anchor="start" fill="#111" stroke="#111" stroke-width="0.15" textLength="5.60" lengthAdjust="spacingAndGlyphs">E</text>
<line x1="252.50" y1="332.40" x2="305.80" y2="332.40" stroke="#2a2a2a" stroke-width="0.85"/>
<line x1="252.50" y1="342.17" x2="277.80" y2="342.17" stroke="#2a2a2a" stroke-width="0.85"/>
<line x1="255.65" y1="329.20" x2="255.65" y2="335.60" stroke="#2a2a2a" stroke-width="0.8"/>
<line x1="255.65" y1="338.97" x2="255.65" y2="345.37" stroke="#2a2a2a" stroke-width="0.8"/>
<line x1="274.90" y1="324.50" x2="274.90" y2="332.40" stroke="#2a2a2a" stroke-width="0.8"/>
<polygon points="274.90,332.40 273.85,328.50 275.95,328.50" fill="#000" stroke="#000" stroke-width="0.3" stroke-linejoin="miter"/>
<line x1="274.90" y1="342.17" x2="274.90" y2="349.20" stroke="#2a2a2a" stroke-width="0.8"/>
<polygon points="274.90,342.17 275.95,346.07 273.85,346.07" fill="#000" stroke="#000" stroke-width="0.3" stroke-linejoin="miter"/>
<text x="269.2" y="340.7" font-size="10.2" font-family="Liberation Serif" fill="#111" stroke="#111" stroke-width="0.15" textLength="4.4" lengthAdjust="spacingAndGlyphs" style="font-family:'Liberation Serif',serif">e</text>
<text x="275.0" y="340.7" font-size="10.2" fill="#111" stroke="#111" stroke-width="0.15" textLength="5.2" lengthAdjust="spacingAndGlyphs" style="font-family:'Liberation Serif',serif">D</text>
<polygon points="302.50,332.40 304.40,342.60 300.60,342.60" fill="#fff" stroke="#2a2a2a" stroke-width="0.8" stroke-linejoin="miter"/>
<line x1="302.50" y1="342.40" x2="302.50" y2="406.40" stroke="#2a2a2a" stroke-width="0.9"/>
<line x1="302.50" y1="429.60" x2="302.50" y2="488.46" stroke="#2a2a2a" stroke-width="0.9"/>
<polygon points="302.50,498.46 300.60,488.26 304.40,488.26" fill="#fff" stroke="#2a2a2a" stroke-width="0.8" stroke-linejoin="miter"/>
<line x1="252.60" y1="498.46" x2="305.80" y2="498.46" stroke="#2a2a2a" stroke-width="0.85"/>
<path d="M288.6 408.3 H299.2 L303.1 412.6 V424.2 L299.2 428.5 H288.6 M292.4 408.3 V428.5" fill="none" stroke="#2a2a2a" stroke-width="0.9" />
<path d="M308.6 412.1 L312.3 408.3 V428.5 M308.8 428.5 H315.6" fill="none" stroke="#2a2a2a" stroke-width="0.9" />
<line x1="226.27" y1="495.50" x2="226.27" y2="516.00" stroke="#2a2a2a" stroke-width="0.85"/>
<line x1="236.06" y1="495.50" x2="236.06" y2="516.00" stroke="#2a2a2a" stroke-width="0.85"/>
<line x1="223.27" y1="498.90" x2="229.27" y2="498.90" stroke="#2a2a2a" stroke-width="0.8"/>
<line x1="233.06" y1="498.90" x2="239.06" y2="498.90" stroke="#2a2a2a" stroke-width="0.8"/>
<line x1="86.15" y1="498.90" x2="92.15" y2="498.90" stroke="#2a2a2a" stroke-width="0.8"/>
<line x1="218.00" y1="512.40" x2="226.27" y2="512.40" stroke="#2a2a2a" stroke-width="0.8"/>
<polygon points="226.27,512.40 222.37,513.45 222.37,511.35" fill="#000" stroke="#000" stroke-width="0.3" stroke-linejoin="miter"/>
<line x1="236.06" y1="512.40" x2="244.40" y2="512.40" stroke="#2a2a2a" stroke-width="0.8"/>
<polygon points="236.06,512.40 239.96,511.35 239.96,513.45" fill="#000" stroke="#000" stroke-width="0.3" stroke-linejoin="miter"/>
<text x="245.0" y="515.7" font-size="10.2" fill="#111" stroke="#111" stroke-width="0.15" textLength="4.6" lengthAdjust="spacingAndGlyphs" style="font-family:'Liberation Serif',serif">e</text>
<text x="251.40" y="515.60" font-size="9.4" font-weight="normal" text-anchor="start" fill="#111" stroke="#111" stroke-width="0.1" textLength="4.40" lengthAdjust="spacingAndGlyphs">E</text>
<line x1="89.15" y1="495.50" x2="89.15" y2="539.60" stroke="#2a2a2a" stroke-width="0.85"/>
<line x1="255.65" y1="495.50" x2="255.65" y2="539.60" stroke="#2a2a2a" stroke-width="0.85"/>
<polygon points="89.15,536.40 99.95,534.30 99.95,538.50" fill="#fff" stroke="#2a2a2a" stroke-width="0.8" stroke-linejoin="miter"/>
<line x1="99.75" y1="536.40" x2="159.70" y2="536.40" stroke="#2a2a2a" stroke-width="0.9"/>
<line x1="188.40" y1="536.40" x2="245.05" y2="536.40" stroke="#2a2a2a" stroke-width="0.9"/>
<polygon points="255.65,536.40 244.85,538.50 244.85,534.30" fill="#fff" stroke="#2a2a2a" stroke-width="0.8" stroke-linejoin="miter"/>
<path d="M173.3 526.0 H159.7 V546.6 H173.3 M159.7 536.4 H166.4" fill="none" stroke="#2a2a2a" stroke-width="0.9" />
<path d="M179.0 530.0 L182.9 526.0 V546.6 M179.5 546.6 H186.6" fill="none" stroke="#2a2a2a" stroke-width="0.9" />
<text x="15.00" y="516.20" font-size="7.3" font-weight="normal" text-anchor="start" fill="#111" stroke="#111" stroke-width="0.3" textLength="5.80" lengthAdjust="spacingAndGlyphs">A1</text>
<text x="26.20" y="516.20" font-size="7.3" font-weight="normal" text-anchor="start" fill="#111" stroke="#111" stroke-width="0.3" textLength="24.30" lengthAdjust="spacingAndGlyphs">BALLPAD</text>
<text x="27.50" y="524.50" font-size="7.3" font-weight="normal" text-anchor="start" fill="#111" stroke="#111" stroke-width="0.3" textLength="23.00" lengthAdjust="spacingAndGlyphs">CORNER</text>
<polyline points="18.70,527.20 49.20,527.20 82.80,505.00" fill="none" stroke="#2a2a2a" stroke-width="0.9" stroke-linejoin="miter"/>
<polygon points="82.80,505.00 69.38,518.76 64.94,512.11" fill="#000" stroke="#000" stroke-width="0.3" stroke-linejoin="miter"/>
<line x1="94.00" y1="494.20" x2="95.00" y2="493.20" stroke="#2a2a2a" stroke-width="1.2"/>
<polyline points="262.50,505.30 276.20,518.20 339.50,518.20" fill="none" stroke="#2a2a2a" stroke-width="0.9" stroke-linejoin="miter"/>
<polygon points="262.50,505.30 270.49,509.95 267.61,513.00" fill="#000" stroke="#000" stroke-width="0.3" stroke-linejoin="miter"/>
<text x="282.40" y="515.70" font-size="8.2" font-weight="normal" text-anchor="start" fill="#111" stroke="#111" stroke-width="0.1" textLength="17.20" lengthAdjust="spacingAndGlyphs">øb(n</text>
<text x="305.00" y="515.70" font-size="8.2" font-weight="normal" text-anchor="start" fill="#111" stroke="#111" stroke-width="0.1" textLength="7.80" lengthAdjust="spacingAndGlyphs">X)</text>
<polygon points="277.20,521.20 336.60,521.20 336.60,531.60 318.80,531.60 318.80,541.30 277.20,541.30" fill="none" stroke="#2a2a2a" stroke-width="0.8" stroke-linejoin="miter"/>
<line x1="288.20" y1="521.20" x2="288.20" y2="541.30" stroke="#2a2a2a" stroke-width="0.8"/>
<line x1="288.20" y1="531.60" x2="318.80" y2="531.60" stroke="#2a2a2a" stroke-width="0.8"/>
<line x1="313.30" y1="521.20" x2="313.30" y2="531.60" stroke="#2a2a2a" stroke-width="0.8"/>
<line x1="321.20" y1="521.20" x2="321.20" y2="531.60" stroke="#2a2a2a" stroke-width="0.8"/>
<line x1="329.50" y1="521.20" x2="329.50" y2="531.60" stroke="#2a2a2a" stroke-width="0.8"/>
<line x1="310.60" y1="531.60" x2="310.60" y2="541.30" stroke="#2a2a2a" stroke-width="0.8"/>
<circle cx="282.60" cy="531.30" r="2.10" fill="none" stroke="#2a2a2a" stroke-width="0.7"/>
<line x1="279.80" y1="531.30" x2="285.40" y2="531.30" stroke="#2a2a2a" stroke-width="0.7"/>
<line x1="282.60" y1="527.60" x2="282.60" y2="535.00" stroke="#2a2a2a" stroke-width="0.7"/>
<text x="289.40" y="530.00" font-size="9.8" font-weight="normal" text-anchor="start" fill="#111" stroke="#111" stroke-width="0.35" textLength="16.20" lengthAdjust="spacingAndGlyphs">Øeee</text>
<circle cx="308.50" cy="526.60" r="2.90" fill="none" stroke="#2a2a2a" stroke-width="0.8"/>
<text x="308.50" y="528.70" font-size="5.4" font-weight="bold" text-anchor="middle" fill="#111" stroke="#111" stroke-width="0.3" textLength="3.80" lengthAdjust="spacingAndGlyphs">M</text>
<text x="317.40" y="529.90" font-size="9.0" font-weight="normal" text-anchor="middle" fill="#111" stroke="#111" stroke-width="0.3" textLength="4.40" lengthAdjust="spacingAndGlyphs">C</text>
<text x="325.40" y="529.90" font-size="9.0" font-weight="normal" text-anchor="middle" fill="#111" stroke="#111" stroke-width="0.3" textLength="4.40" lengthAdjust="spacingAndGlyphs">A</text>
<text x="333.10" y="529.90" font-size="9.0" font-weight="normal" text-anchor="middle" fill="#111" stroke="#111" stroke-width="0.3" textLength="4.20" lengthAdjust="spacingAndGlyphs">B</text>
<text x="289.40" y="539.90" font-size="9.8" font-weight="normal" text-anchor="start" fill="#111" stroke="#111" stroke-width="0.35" textLength="13.00" lengthAdjust="spacingAndGlyphs">Øfff</text>
<circle cx="305.20" cy="536.50" r="2.90" fill="none" stroke="#2a2a2a" stroke-width="0.8"/>
<text x="305.20" y="538.60" font-size="5.4" font-weight="bold" text-anchor="middle" fill="#111" stroke="#111" stroke-width="0.3" textLength="3.80" lengthAdjust="spacingAndGlyphs">M</text>
<text x="314.30" y="539.90" font-size="9.0" font-weight="normal" text-anchor="middle" fill="#111" stroke="#111" stroke-width="0.3" textLength="4.40" lengthAdjust="spacingAndGlyphs">C</text>
<text x="156.20" y="566.00" font-size="9.6" font-weight="normal" text-anchor="start" fill="#111" stroke="#111" stroke-width="0.3" textLength="27.00" lengthAdjust="spacingAndGlyphs">BOTTOM</text>
<text x="188.00" y="566.00" font-size="9.6" font-weight="normal" text-anchor="start" fill="#111" stroke="#111" stroke-width="0.3" textLength="15.70" lengthAdjust="spacingAndGlyphs">VIEW</text>
<line x1="156.20" y1="566.80" x2="203.70" y2="566.80" stroke="#2a2a2a" stroke-width="0.9"/>
<clipPath id="dc"><circle cx="479.9" cy="393.0" r="57.6"/></clipPath>
<circle cx="479.90" cy="393.00" r="57.60" fill="none" stroke="#2a2a2a" stroke-width="1.3"/>
<line x1="426.09" y1="372.45" x2="568.00" y2="372.45" stroke="#2a2a2a" stroke-width="1.0"/>
<line x1="422.96" y1="401.70" x2="535.30" y2="401.70" stroke="#2a2a2a" stroke-width="1.0"/>
<line x1="425.85" y1="412.90" x2="512.80" y2="412.90" stroke="#2a2a2a" stroke-width="0.65"/>
<line x1="512.80" y1="412.90" x2="552.60" y2="412.90" stroke="#2a2a2a" stroke-width="0.9"/>
<line x1="404.60" y1="424.40" x2="568.00" y2="424.40" stroke="#2a2a2a" stroke-width="1.0"/>
<line x1="512.80" y1="372.45" x2="512.80" y2="412.90" stroke="#2a2a2a" stroke-width="0.9"/>
<line x1="404.60" y1="422.70" x2="508.50" y2="422.70" stroke="#2a2a2a" stroke-width="0.7" stroke-dasharray="10.3 4.4"/>
<g clip-path="url(#dc)">
<path d="M428.94 412.9 A7.4 7.4 0 1 0 441.26 412.9" fill="none" stroke="#2a2a2a" stroke-width="0.9" />
<path d="M457.94 412.9 A7.4 7.4 0 1 0 470.26 412.9" fill="none" stroke="#2a2a2a" stroke-width="0.9" />
<path d="M487.34 412.9 A7.4 7.4 0 1 0 499.66 412.9" fill="none" stroke="#2a2a2a" stroke-width="0.9" />
</g>
<polygon points="420.00,424.60 431.50,424.60 425.70,433.60" fill="#000" stroke="#000" stroke-width="0.3" stroke-linejoin="miter"/>
<line x1="425.70" y1="433.60" x2="425.70" y2="446.10" stroke="#2a2a2a" stroke-width="0.8"/>
<rect x="420.80" y="445.40" width="9.60" height="11.80" fill="none" stroke="#2a2a2a" stroke-width="0.8"/>
<text x="425.60" y="455.00" font-size="10.0" font-weight="normal" text-anchor="middle" fill="#111" stroke="#111" stroke-width="0.3" textLength="4.70" lengthAdjust="spacingAndGlyphs">C</text>
<line x1="408.40" y1="403.00" x2="408.40" y2="422.40" stroke="#2a2a2a" stroke-width="0.8"/>
<polygon points="408.40,423.20 406.70,414.20 410.10,414.20" fill="#fff" stroke="#2a2a2a" stroke-width="0.75" stroke-linejoin="miter"/>
<polygon points="408.40,424.80 410.10,433.80 406.70,433.80" fill="#fff" stroke="#2a2a2a" stroke-width="0.75" stroke-linejoin="miter"/>
<line x1="408.40" y1="433.40" x2="408.40" y2="453.30" stroke="#2a2a2a" stroke-width="0.8"/>
<rect x="364.70" y="441.30" width="42.00" height="12.00" fill="none" stroke="#2a2a2a" stroke-width="0.9"/>
<line x1="380.70" y1="441.30" x2="380.70" y2="453.30" stroke="#2a2a2a" stroke-width="0.9"/>
<line x1="397.70" y1="441.30" x2="397.70" y2="453.30" stroke="#2a2a2a" stroke-width="0.9"/>
<path d="M367.3 450.6 H377.3 A5.0 6.4 0 0 0 367.3 450.6 Z" fill="none" stroke="#2a2a2a" stroke-width="0.9" />
<text x="382.90" y="451.00" font-size="9.6" font-weight="normal" text-anchor="start" fill="#111" stroke="#111" stroke-width="0.2" textLength="3.50" lengthAdjust="spacingAndGlyphs">d</text>
<text x="387.40" y="451.00" font-size="9.6" font-weight="normal" text-anchor="start" fill="#111" stroke="#111" stroke-width="0.2" textLength="3.50" lengthAdjust="spacingAndGlyphs">d</text>
<text x="392.00" y="451.00" font-size="9.6" font-weight="normal" text-anchor="start" fill="#111" stroke="#111" stroke-width="0.2" textLength="3.50" lengthAdjust="spacingAndGlyphs">d</text>
<text x="401.40" y="451.00" font-size="9.6" font-weight="normal" text-anchor="middle" fill="#111" stroke="#111" stroke-width="0.3" textLength="4.60" lengthAdjust="spacingAndGlyphs">C</text>
<polyline points="463.60,424.60 477.60,440.20 483.40,440.20" fill="none" stroke="#111" stroke-width="0.95" stroke-linejoin="miter"/>
<polygon points="463.60,424.60 469.06,428.43 466.83,430.44" fill="#000" stroke="#000" stroke-width="0.3" stroke-linejoin="miter"/>
<text x="468.30" y="447.30" font-size="7.1" font-weight="normal" text-anchor="start" fill="#111" stroke="#111" stroke-width="0.3" textLength="19.00" lengthAdjust="spacingAndGlyphs">SOLDER</text>
<text x="490.80" y="447.30" font-size="7.1" font-weight="normal" text-anchor="start" fill="#111" stroke="#111" stroke-width="0.3" textLength="9.70" lengthAdjust="spacingAndGlyphs">BALL</text>
<polyline points="441.60,424.60 458.50,468.30 467.50,468.30" fill="none" stroke="#111" stroke-width="1.0" stroke-linejoin="miter"/>
<polygon points="441.60,424.60 446.42,432.42 443.04,433.67" fill="#000" stroke="#000" stroke-width="0.3" stroke-linejoin="miter"/>
<text x="454.00" y="478.00" font-size="6.9" font-weight="normal" text-anchor="start" fill="#111" stroke="#111" stroke-width="0.3" textLength="19.50" lengthAdjust="spacingAndGlyphs">SEATING</text>
<text x="476.80" y="478.00" font-size="6.9" font-weight="normal" text-anchor="start" fill="#111" stroke="#111" stroke-width="0.3" textLength="15.00" lengthAdjust="spacingAndGlyphs">PLANE</text>
<text x="452.30" y="501.30" font-size="9.3" font-weight="normal" text-anchor="start" fill="#111" stroke="#111" stroke-width="0.3" textLength="21.50" lengthAdjust="spacingAndGlyphs">DETAIL</text>
<text x="478.90" y="501.30" font-size="9.3" font-weight="normal" text-anchor="start" fill="#111" stroke="#111" stroke-width="0.3" textLength="21.80" lengthAdjust="spacingAndGlyphs">A(3:1)</text>
<line x1="452.30" y1="501.90" x2="500.70" y2="501.90" stroke="#2a2a2a" stroke-width="0.9"/>
<text x="452.30" y="513.90" font-size="9.3" font-weight="normal" text-anchor="start" fill="#111" stroke="#111" stroke-width="0.3" textLength="30.60" lengthAdjust="spacingAndGlyphs">ROTATED</text>
<text x="489.00" y="513.90" font-size="9.3" font-weight="normal" text-anchor="start" fill="#111" stroke="#111" stroke-width="0.3" textLength="11.70" lengthAdjust="spacingAndGlyphs">90'</text>
<line x1="521.40" y1="353.50" x2="521.40" y2="372.45" stroke="#2a2a2a" stroke-width="0.8"/>
<polygon points="521.40,372.45 519.70,363.45 523.10,363.45" fill="#fff" stroke="#2a2a2a" stroke-width="0.75" stroke-linejoin="miter"/>
<line x1="521.40" y1="421.00" x2="521.40" y2="401.70" stroke="#2a2a2a" stroke-width="0.8"/>
<polygon points="521.40,401.70 523.10,410.70 519.70,410.70" fill="#fff" stroke="#2a2a2a" stroke-width="0.75" stroke-linejoin="miter"/>
<text x="515.90" y="393.30" font-size="9.8" font-weight="normal" text-anchor="start" fill="#111" stroke="#111" stroke-width="0.05" textLength="11.20" lengthAdjust="spacingAndGlyphs">A2</text>
<line x1="532.00" y1="381.40" x2="532.00" y2="401.70" stroke="#2a2a2a" stroke-width="0.8"/>
<polygon points="532.00,401.70 530.30,392.70 533.70,392.70" fill="#fff" stroke="#2a2a2a" stroke-width="0.75" stroke-linejoin="miter"/>
<line x1="532.00" y1="432.50" x2="532.00" y2="412.90" stroke="#2a2a2a" stroke-width="0.8"/>
<polygon points="532.00,412.90 533.20,421.40 530.80,421.40" fill="#000" stroke="#000" stroke-width="0.3" stroke-linejoin="miter"/>
<text x="529.40" y="410.80" font-size="10.2" font-weight="normal" text-anchor="start" fill="#111" stroke="#111" stroke-width="0.05" textLength="5.40" lengthAdjust="spacingAndGlyphs">C</text>
<line x1="549.20" y1="393.60" x2="549.20" y2="412.90" stroke="#2a2a2a" stroke-width="0.8"/>
<polygon points="549.20,412.90 547.50,403.90 550.90,403.90" fill="#fff" stroke="#2a2a2a" stroke-width="0.75" stroke-linejoin="miter"/>
<line x1="549.20" y1="444.00" x2="549.20" y2="424.40" stroke="#2a2a2a" stroke-width="0.8"/>
<polygon points="549.20,424.40 550.90,433.40 547.50,433.40" fill="#fff" stroke="#2a2a2a" stroke-width="0.75" stroke-linejoin="miter"/>
<text x="544.40" y="422.00" font-size="8.8" font-weight="normal" text-anchor="start" fill="#111" stroke="#111" stroke-width="0.05" textLength="9.00" lengthAdjust="spacingAndGlyphs">A1</text>
<polygon points="564.20,372.45 565.90,381.45 562.50,381.45" fill="#fff" stroke="#2a2a2a" stroke-width="0.75" stroke-linejoin="miter"/>
<line x1="564.20" y1="381.45" x2="564.20" y2="395.50" stroke="#2a2a2a" stroke-width="0.8"/>
<line x1="564.20" y1="404.50" x2="564.20" y2="415.40" stroke="#2a2a2a" stroke-width="0.8"/>
<polygon points="564.20,424.40 562.50,415.40 565.90,415.40" fill="#fff" stroke="#2a2a2a" stroke-width="0.75" stroke-linejoin="miter"/>
<text x="561.30" y="403.20" font-size="8.8" font-weight="normal" text-anchor="start" fill="#111" stroke="#111" stroke-width="0.05" textLength="5.80" lengthAdjust="spacingAndGlyphs">A</text>
</svg>
</body></html>
